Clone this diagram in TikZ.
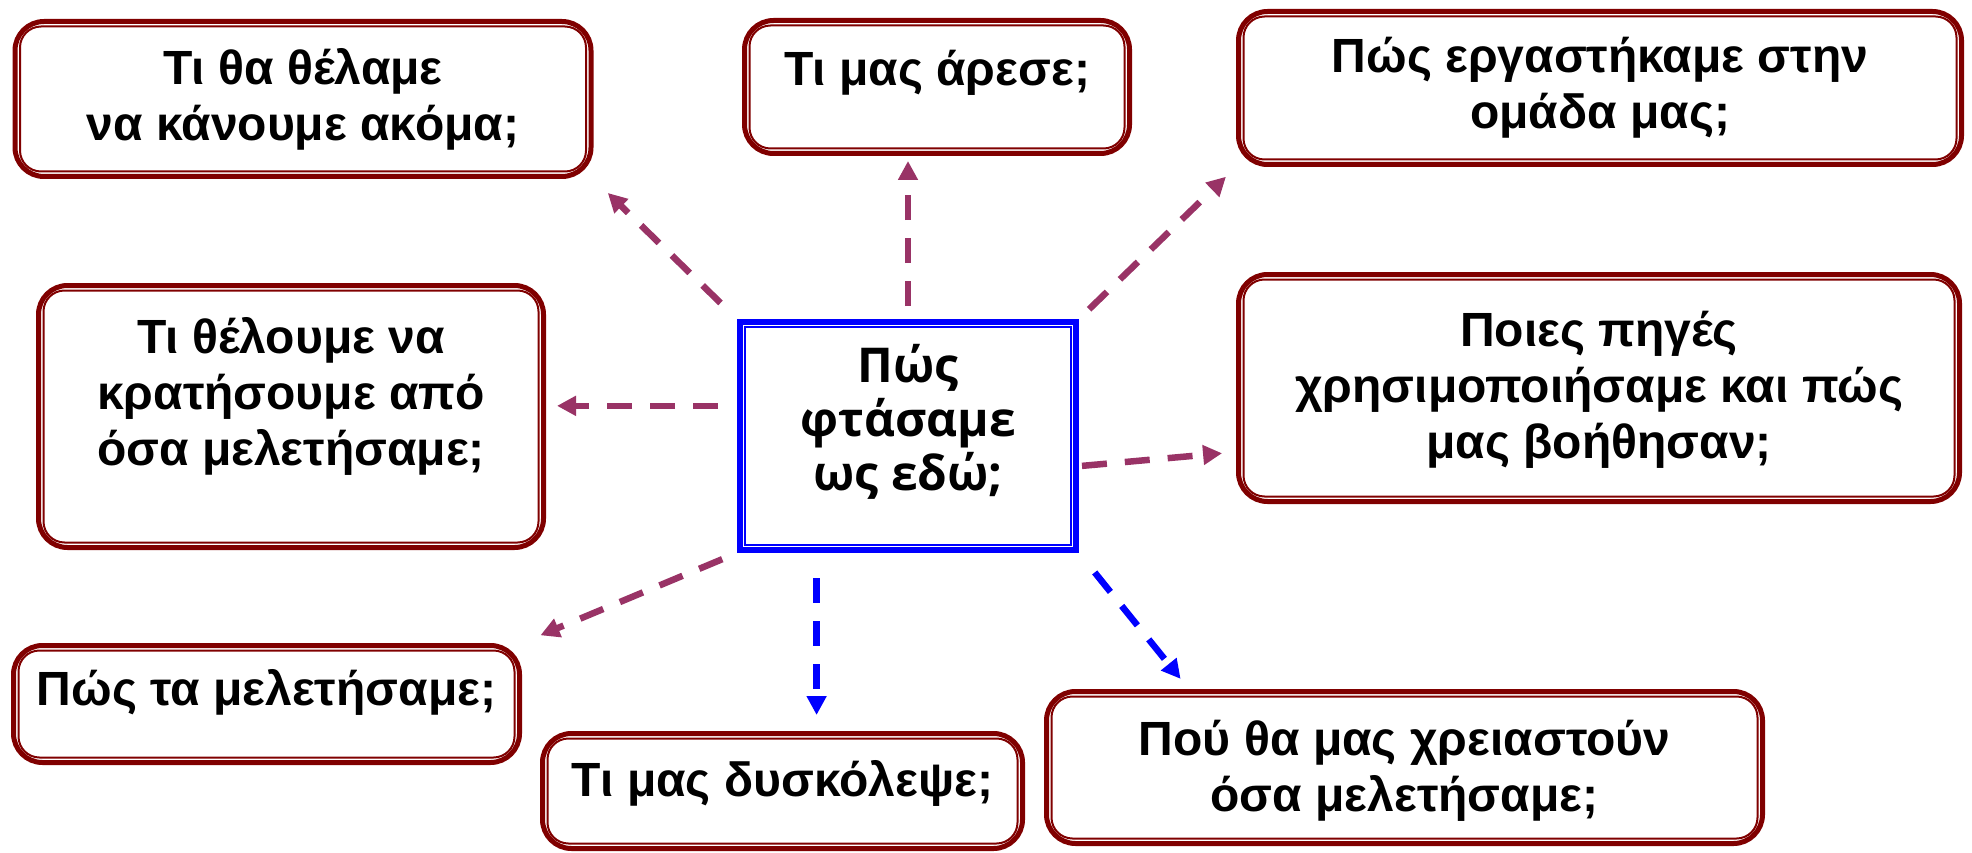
\documentclass[tikz,border=0pt]{standalone}
\usepackage{fontspec}
\setmainfont{Liberation Sans}
\newfontfamily\centrefont{Open Sans}
\usetikzlibrary{arrows.meta}
\definecolor{boxred}{HTML}{800000}
\definecolor{linkplum}{HTML}{993366}
\definecolor{linkblue}{HTML}{0000FF}
\tikzset{
  qbox/.style={draw=boxred,line width=5pt,rounded corners=29pt,inner sep=0pt},
  qline/.style={draw=boxred,line width=2pt,rounded corners=21pt},
  qtext/.style={align=center,font=\fontsize{48}{56}\selectfont\bfseries},
  link/.style={line width=6.5pt,dash pattern=on 25pt off 18pt,-{Triangle[length=19pt,width=19pt]}},
}
\begin{document}
\begin{tikzpicture}[x=1pt,y=-1pt]
\useasboundingbox (0,0) rectangle (1972,853);
% question boxes
\node[qbox,minimum width=576pt,minimum height=155pt] (b1) at (303,99) {};
\node[qbox,minimum width=385pt,minimum height=133pt] (b2) at (937,87) {};
\node[qbox,minimum width=723pt,minimum height=153pt] (b3) at (1600,88) {};
\node[qbox,minimum width=505pt,minimum height=262pt] (b4) at (291,416.5) {};
\node[qbox,minimum width=721pt,minimum height=227pt] (b5) at (1599,388) {};
\node[qbox,minimum width=506pt,minimum height=117pt] (b6) at (266.5,704) {};
\node[qbox,minimum width=480pt,minimum height=115pt] (b7) at (782.5,791) {};
\node[qbox,minimum width=716pt,minimum height=152pt] (b8) at (1404.5,767.5) {};
\foreach \n in {b1,b2,b3,b4,b5,b6,b7,b8}
  \draw[qline] ([shift={(7.5pt,-7.5pt)}]\n.north west) rectangle ([shift={(-7.5pt,7.5pt)}]\n.south east);
% centre box
\node[draw=linkblue,line width=6pt,inner sep=0pt,minimum width=336pt,minimum height=228pt] (c) at (908,436) {};
\draw[linkblue,line width=2.2pt] ([shift={(8pt,-8pt)}]c.north west) rectangle ([shift={(-8pt,8pt)}]c.south east);

\node[qtext] (t1) at (b1) {Τι θα θέλαμε\\να κάνουμε ακόμα;};
\node[qtext] (t2) at ([yshift=14pt]b2) {Τι μας άρεσε;};
\node[qtext] (t3) at (b3) {Πώς εργαστήκαμε στην\\ομάδα μας;};
\node[qtext] (t4) at ([yshift=20pt]b4) {Τι θέλουμε να\\κρατήσουμε από\\όσα μελετήσαμε;};
\node[qtext] (t5) at ([yshift=-2pt]b5) {Ποιες πηγές\\χρησιμοποιήσαμε και πώς\\μας βοήθησαν;};
\node[qtext] (t6) at ([yshift=12pt]b6) {Πώς τα μελετήσαμε;};
\node[qtext] (t7) at ([yshift=8pt]b7) {Τι μας δυσκόλεψε;};
\node[qtext] (t8) at ([yshift=-3pt]b8) {Πού θα μας χρειαστούν\\όσα μελετήσαμε;};
\node[qtext,font=\fontsize{48}{54}\selectfont\centrefont\bfseries] (tc) at ([yshift=14pt]c) {Πώς\\φτάσαμε\\ως εδώ;};

% links
\draw[link,linkplum,shorten <=23pt,shorten >=20pt] (c.north west) -- (b1.south east);
\draw[link,linkplum,shorten <=13pt,shorten >=5pt] (c.north) -- (c.north |- b2.south);
\draw[link,linkplum,shorten <=14pt,shorten >=14pt] (c.north east) -- (b3.south west);
\draw[link,linkplum,shorten <=19pt,shorten >=11pt] (c.170) -- (c.170 -| b4.east);
\draw[link,linkplum,shorten <=3pt,shorten >=14pt] (c.350) -- (b5.190);
\draw[link,linkplum,shorten <=16pt,shorten >=20pt] (c.south west) -- (b6.north east);
\draw[link,linkblue,shorten <=25pt,shorten >=16pt] (c.232) -- (c.232 |- b7.north);
\draw[link,linkblue,shorten <=25pt,shorten >=13pt] (c.south east) -- (b8.160);
\end{tikzpicture}
\end{document}
